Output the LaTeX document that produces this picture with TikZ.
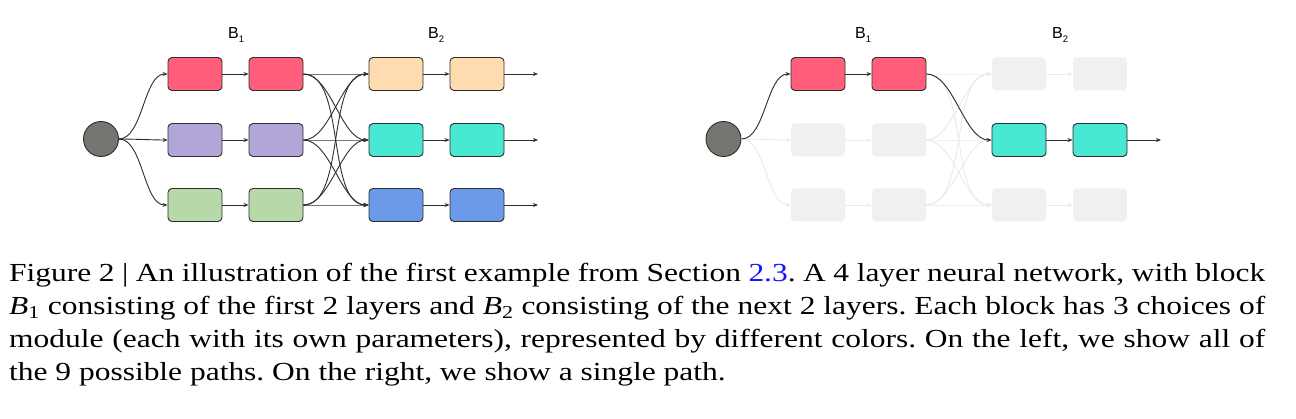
\documentclass[tikz,border=0pt]{standalone}
\usepackage{fontspec}
\setmainfont{Liberation Serif}[FakeStretch=1.21]
\newfontfamily\diagfont{Liberation Sans}
\usetikzlibrary{arrows.meta}
\frenchspacing
\definecolor{cred}{HTML}{FF5F7A}
\definecolor{cpurple}{HTML}{B2A5D8}
\definecolor{cgreen}{HTML}{B7D8A8}
\definecolor{cpeach}{HTML}{FFDCAF}
\definecolor{cteal}{HTML}{48E8D2}
\definecolor{cblue}{HTML}{6B9BE8}
\definecolor{ccirc}{HTML}{76756F}
\definecolor{cline}{HTML}{2E2E2E}
\definecolor{cfade}{HTML}{F0F0F0}
\definecolor{cfadeline}{HTML}{EAEAEA}
\definecolor{clink}{HTML}{1414FF}
\begin{document}
\frenchspacing
\begin{tikzpicture}[x=1pt,y=-1pt,
  box/.style={rectangle,rounded corners=4pt,minimum width=54pt,minimum height=33pt,draw=cline,line width=0.9pt,inner sep=0pt},
  fbox/.style={rectangle,rounded corners=4pt,minimum width=54pt,minimum height=33pt,fill=cfade,draw=none,inner sep=0pt},
  circ/.style={circle,minimum size=35pt,inner sep=0pt,fill=ccirc,draw=cline,line width=0.9pt},
  conn/.style={draw=cline,line width=0.9pt,-{Stealth[length=5pt,width=4pt]}},
  fconn/.style={draw=cfadeline,line width=0.9pt,-{Stealth[length=5pt,width=4pt]}},
  curve/.style={out=0,in=180,looseness=0.75},
  lab/.style={font=\diagfont\fontsize{16}{16}\selectfont,inner sep=0pt,anchor=base west},
  captxt/.style={font=\fontsize{26}{33}\selectfont,inner sep=0pt,anchor=base west}]
\useasboundingbox (0,0) rectangle (1296,419);
\fill[white] (0,0) rectangle (1296,419);

% ---------- left network ----------
\node[circ] (Lc) at (101,139) {};
\foreach \r/\y/\ca/\cb in {1/74/cred/cpeach,2/140/cpurple/cteal,3/205/cgreen/cblue}{
  \node[box,fill=\ca] (L1\r) at (195,\y) {};
  \node[box,fill=\ca] (L2\r) at (276,\y) {};
  \node[box,fill=\cb] (L3\r) at (396,\y) {};
  \node[box,fill=\cb] (L4\r) at (477,\y) {};
  \coordinate (Lo\r) at (538,\y);
}
\foreach \r in {1,2,3}{
  \draw[conn] (Lc.east) to[curve] (L1\r.west);
  \draw[conn] (L1\r.east) -- (L2\r.west);
  \draw[conn] (L3\r.east) -- (L4\r.west);
  \draw[conn] (L4\r.east) -- (Lo\r);
  \foreach \s in {1,2,3}{
    \draw[conn] (L2\r.east) to[curve] (L3\s.west);
  }
}
\node[lab] (Lb1) at (228,38.5) {B\raisebox{-4.5pt}{\fontsize{9.5}{9.5}\selectfont 1}};
\node[lab] (Lb2) at (428,38.5) {B\raisebox{-4.5pt}{\fontsize{9.5}{9.5}\selectfont 2}};

% ---------- right network ----------
\node[circ] (Rc) at (723.5,139) {};
\foreach \r/\y in {1/74,2/140,3/205}{
  \node[fbox] (R1\r) at (818,\y) {};
  \node[fbox] (R2\r) at (899,\y) {};
  \node[fbox] (R3\r) at (1019,\y) {};
  \node[fbox] (R4\r) at (1100,\y) {};
}
\coordinate (Ro2) at (1161,140);
\foreach \r in {1,2,3}{
  \draw[fconn] (Rc.east) to[curve] (R1\r.west);
  \draw[fconn] (R1\r.east) -- (R2\r.west);
  \draw[fconn] (R3\r.east) -- (R4\r.west);
  \foreach \s in {1,2,3}{
    \draw[fconn] (R2\r.east) to[curve] (R3\s.west);
  }
}
\node[box,fill=cred] (S1) at (818,74) {};
\node[box,fill=cred] (S2) at (899,74) {};
\node[box,fill=cteal] (S3) at (1019,140) {};
\node[box,fill=cteal] (S4) at (1100,140) {};
\draw[conn] (Rc.east) to[curve] (S1.west);
\draw[conn] (S1.east) -- (S2.west);
\draw[conn] (S2.east) to[curve] (S3.west);
\draw[conn] (S3.east) -- (S4.west);
\draw[conn] (S4.east) -- (Ro2);
\node[lab] (Rb1) at (855,38.5) {B\raisebox{-4.5pt}{\fontsize{9.5}{9.5}\selectfont 1}};
\node[lab] (Rb2) at (1052,38.5) {B\raisebox{-4.5pt}{\fontsize{9.5}{9.5}\selectfont 2}};

% ---------- caption ----------
\node[captxt] (cap1) at (9,282) {\makebox[1256pt][s]{Figure 2 | An illustration of the first example from Section \textcolor{clink}{2.3}. A 4 layer neural network, with block}};
\node[captxt] (cap2) at (9,315) {\makebox[1256pt][s]{\textit{B}\textsubscript{1} consisting of the first 2 layers and \textit{B}\textsubscript{2} consisting of the next 2 layers. Each block has 3 choices of}};
\node[captxt] (cap3) at (9,348) {\makebox[1256pt][s]{module (each with its own parameters), represented by different colors. On the left, we show all of}};
\node[captxt] (cap4) at (9,381) {the 9 possible paths. On the right, we show a single path.};
\end{tikzpicture}
\end{document}
